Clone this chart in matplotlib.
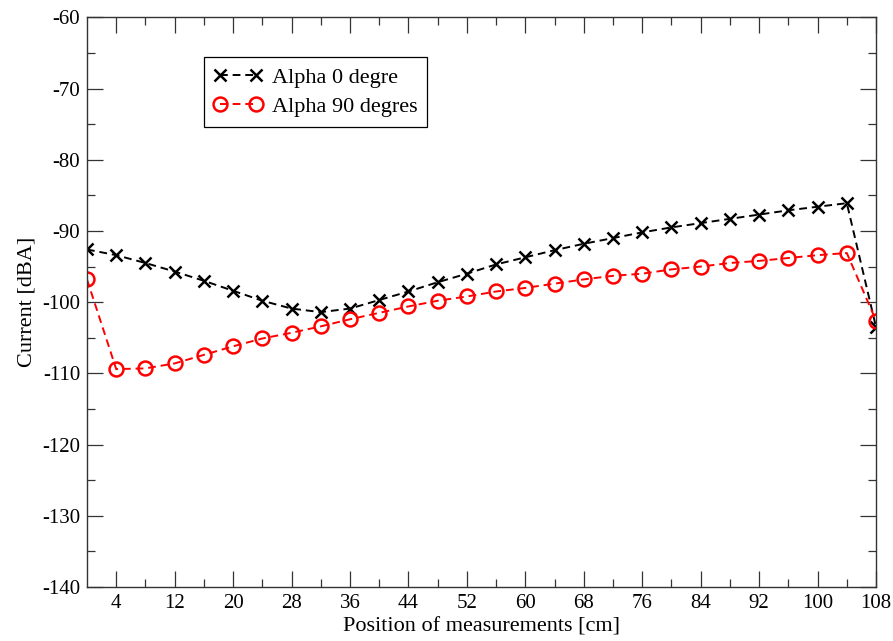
import matplotlib
matplotlib.use("Agg")
import matplotlib.pyplot as plt
from matplotlib.ticker import FixedLocator, MultipleLocator

positions = [0, 4, 8, 12, 16, 20, 24, 28, 32, 36, 40, 44, 48, 52, 56, 60, 64,
             68, 72, 76, 80, 84, 88, 92, 96, 100, 104, 108]
alpha0 = [-92.6, -93.4, -94.5, -95.7, -97.0, -98.4, -99.8, -100.9, -101.4,
          -100.9, -99.7, -98.5, -97.2, -96.0, -94.7, -93.7, -92.7, -91.8,
          -91.0, -90.2, -89.5, -88.9, -88.3, -87.7, -87.1, -86.6, -86.1, -103.5]
alpha90 = [-96.8, -109.4, -109.3, -108.6, -107.4, -106.2, -105.1, -104.3,
           -103.4, -102.4, -101.5, -100.6, -99.8, -99.2, -98.5, -98.0, -97.4,
           -96.8, -96.3, -96.0, -95.4, -95.0, -94.5, -94.2, -93.8, -93.4,
           -93.1, -102.6]
labels = ["Alpha 0 degre", "Alpha 90 degres"]
x_major = [4, 12, 20, 28, 36, 44, 52, 60, 68, 76, 84, 92, 100, 108]
x_minor = [8, 16, 24, 32, 40, 48, 56, 64, 72, 80, 88, 96, 104]

plt.rcParams['font.family'] = ['Liberation Serif', 'DejaVu Serif']
plt.rcParams['axes.unicode_minus'] = False

fig = plt.figure(figsize=(8.93, 6.41), dpi=100)
ax = fig.add_axes([0.0974, 0.0842, 0.981 - 0.0974, 0.973 - 0.0842])

ax.plot(positions, alpha0, color='black', linestyle=(0, (4, 2.5)), linewidth=1.4,
        marker='x', markersize=9, markeredgewidth=1.8, label=labels[0])
ax.plot(positions, alpha90, color='red', linestyle=(0, (4, 2.5)), linewidth=1.4,
        marker='o', markersize=10, markerfacecolor='none', markeredgewidth=1.8,
        label=labels[1])

ax.set_xlim(0, 108)
ax.set_ylim(-140, -60)
ax.xaxis.set_major_locator(FixedLocator(x_major))
ax.xaxis.set_minor_locator(FixedLocator(x_minor))
ax.yaxis.set_major_locator(MultipleLocator(10))
ax.yaxis.set_minor_locator(MultipleLocator(5))
ax.tick_params(which='both', direction='in', top=True, right=True,
               labelsize=15, width=0.9, color='#333333')
ax.tick_params(which='major', length=11.5, pad=5)
ax.tick_params(which='minor', length=6)
for s in ax.spines.values():
    s.set_linewidth(1.0)
    s.set_color('#333333')

ax.set_xlabel("Position of measurements [cm]", fontsize=16, labelpad=3)
ax.set_ylabel("Current [dBA]", fontsize=16, labelpad=4)

leg = ax.legend(loc='upper left', bbox_to_anchor=(0.148, 0.930),
                borderaxespad=0, fancybox=False, edgecolor='black',
                framealpha=1, fontsize=16, numpoints=2, handlelength=2.2,
                handletextpad=0.4, borderpad=0.45, labelspacing=0.4)
leg.get_frame().set_linewidth(0.9)

fig.savefig("out.png", dpi=100)
